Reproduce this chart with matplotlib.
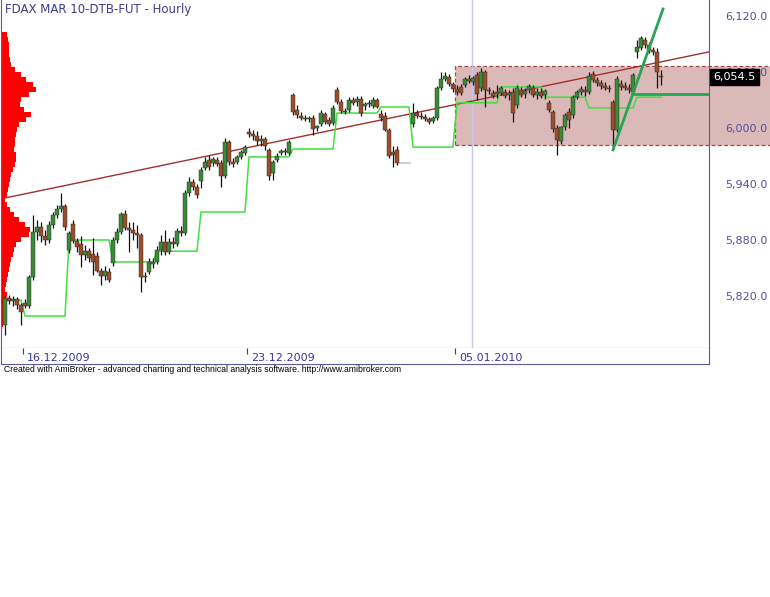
import numpy as np
import matplotlib.pyplot as plt
from matplotlib.patches import Rectangle
from matplotlib.transforms import blended_transform_factory

plt.rcParams['font.family'] = ['DejaVu Sans']

# hourly FDAX bars (15.12.2009 - 11.01.2010)
open_ = [5789, 5818, 5814.5, 5817, 5810.5, 5812.5, 5809.5, 5840.5, 5888.5, 5894,
         5884.5, 5880, 5896, 5907, 5913, 5916.5, 5869.5, 5897, 5879, 5875.5,
         5864, 5868, 5865, 5863, 5847, 5841.5, 5845.5, 5855.5, 5880, 5888.5,
         5908, 5893, 5890.5, 5887.5, 5885.5, 5840.5, 5845.5, 5854.5, 5856.5, 5869.5,
         5878, 5867, 5878, 5875.5, 5889.5, 5887.5, 5930.5, 5942, 5937, 5943,
         5957, 5965.5, 5962.5, 5965.5, 5962.5, 5948.5, 5985, 5963.5, 5963.5, 5969,
         5973, 5995.5, 5993.5, 5991.5, 5986, 5988, 5976.5, 5952, 5965.5, 5973,
         5975.5, 5973, 6035.5, 6019.5, 6013, 6010.5, 6009.5, 6010.5, 6000, 6004.5,
         6015, 6008.5, 6005.5, 6040.5, 6028, 6018, 6019.5, 6030, 6028, 6031,
         6023.5, 6025.5, 6023.5, 6030, 6015, 6013, 5998, 5974.5, 5976.5, 5962.5,
         5962.5, 5962.5, 6004.5, 6016, 6013, 6012, 6009.5, 6007.5, 6010.5, 6043,
         6052.5, 6054.5, 6047, 6042, 6044, 6046, 6052.5, 6049.5, 6057, 6043,
         6060, 6040.5, 6037.5, 6038.5, 6037.5, 6038.5, 6035.5, 6038.5, 6024.5, 6040.5,
         6036.5, 6040.5, 6043, 6035.5, 6038.5, 6035.5, 6027, 6017, 6000, 5986,
         6001, 6017, 6014, 6033, 6038.5, 6040.5, 6038.5, 6058, 6051.5, 6048,
         6045, 6043, 6028, 5998, 6047, 6045, 6043, 6038.5, 6081.5, 6085.5,
         6094.5, 6089, 6083.5, 6081.5, 6055.5]
high = [5820, 5821, 5820, 5819, 5812.5, 5817, 5842.5, 5907, 5901.5, 5899.5,
        5890.5, 5900.5, 5910, 5917.5, 5930.5, 5918.5, 5889.5, 5901.5, 5882, 5884.5,
        5874.5, 5871.5, 5882, 5867, 5850, 5852, 5850, 5883, 5893, 5910,
        5912, 5899.5, 5899.5, 5896, 5887.5, 5845.5, 5860.5, 5860.5, 5873.5, 5885.5,
        5890.5, 5882, 5883, 5893, 5895, 5933.5, 5947.5, 5945.5, 5940, 5958,
        5969, 5971, 5969, 5969, 5965.5, 5989.5, 5987, 5968, 5971, 5976.5,
        5982, 6000, 5998, 5997, 5992.5, 5990.5, 5978.5, 5965.5, 5973, 5977.5,
        5978.5, 5987, 6037.5, 6024.5, 6017, 6014, 6013, 6014, 6003, 6019.5,
        6017, 6012, 6024.5, 6044, 6031, 6021.5, 6033, 6033, 6034.5, 6034.5,
        6028, 6030, 6033, 6032, 6019.5, 6017, 6000, 5980.5, 5980.5, 5962.5,
        5962.5, 5962.5, 6027, 6019.5, 6017, 6015, 6012, 6013, 6045, 6060,
        6060, 6058, 6049.5, 6046, 6047, 6054.5, 6057, 6055.5, 6060, 6064.5,
        6062, 6044, 6040.5, 6046, 6045, 6042, 6040.5, 6043, 6046, 6044,
        6043, 6047, 6046, 6043, 6043, 6042, 6030, 6019.5, 6003, 6002,
        6016, 6021.5, 6035.5, 6040.5, 6045, 6045, 6060, 6061, 6054.5, 6051.5,
        6049.5, 6046, 6030, 6055.5, 6051.5, 6049.5, 6047, 6059, 6094.5, 6098.5,
        6097.5, 6092, 6087, 6085.5, 6062]
low = [5778, 5811.5, 5809.5, 5806, 5789, 5807, 5807, 5837, 5880, 5878,
       5874.5, 5877, 5893, 5903.5, 5910, 5890.5, 5866, 5877, 5867, 5851,
       5858.5, 5856.5, 5842.5, 5845.5, 5832, 5837, 5835, 5852, 5877, 5886.5,
       5890.5, 5867, 5880, 5871.5, 5824.5, 5835, 5843.5, 5850, 5854.5, 5864,
       5864, 5865, 5871.5, 5873.5, 5884.5, 5885.5, 5927, 5933.5, 5925, 5935.5,
       5955, 5955, 5959.5, 5959.5, 5937, 5946.5, 5960.5, 5958, 5961.5, 5967,
       5971, 5990.5, 5987, 5982, 5980.5, 5976.5, 5944.5, 5944.5, 5963.5, 5971,
       5971, 5971, 6014, 6010.5, 6008.5, 6007.5, 6006.5, 5992.5, 5997, 6002,
       6004.5, 6002, 6003, 6025.5, 6016, 6015, 6017, 6024.5, 6023.5, 6013,
       6019.5, 6022.5, 6021.5, 6021.5, 6007.5, 5997, 5968, 5958, 5960.5, 5962.5,
       5962.5, 5962.5, 6001, 6010.5, 6009.5, 6007.5, 6004.5, 6005.5, 6008.5, 6040.5,
       6050.5, 6045, 6038.5, 6035.5, 6035.5, 6044, 6048, 6046, 6030, 6039.5,
       6022.5, 6036.5, 6032, 6032, 6035.5, 6032, 6030, 6006.5, 6021.5, 6033,
       6032, 6037.5, 6033, 6031, 6032, 6031, 6017, 5995.5, 5971, 5983,
       5998, 6000, 6010.5, 6031, 6035.5, 6034.5, 6036.5, 6049.5, 6045, 6042,
       6040.5, 6038.5, 5976.5, 5995.5, 6040.5, 6040.5, 6037.5, 6036.5, 6075, 6083.5,
       6085.5, 6080.5, 6078, 6043, 6046]
close = [5818, 5814.5, 5817, 5810.5, 5803, 5809.5, 5840.5, 5888.5, 5894, 5884.5,
         5880, 5896, 5907, 5913, 5916.5, 5894, 5887.5, 5879, 5872.5, 5864,
         5868, 5860.5, 5856.5, 5847, 5841.5, 5847, 5837, 5880, 5888.5, 5908,
         5893, 5890.5, 5887.5, 5885.5, 5840.5, 5841.5, 5856.5, 5856.5, 5869.5, 5878,
         5867, 5878, 5875.5, 5889.5, 5887.5, 5930.5, 5942, 5937, 5928, 5955,
         5963.5, 5958, 5967, 5961.5, 5948.5, 5985, 5963.5, 5961.5, 5969, 5974.5,
         5979.5, 5993.5, 5991.5, 5986, 5988, 5980.5, 5948.5, 5963.5, 5970, 5975.5,
         5974.5, 5985, 6017, 6014, 6010.5, 6009.5, 6010.5, 5999, 6002, 6016,
         6006.5, 6004.5, 6021.5, 6028, 6018, 6017, 6030, 6027, 6031, 6016,
         6025.5, 6027, 6030, 6022.5, 6010.5, 5998, 5970, 5971, 5962.5, 5962.5,
         5962.5, 5962.5, 6016, 6013, 6012, 6009.5, 6006.5, 6010.5, 6043, 6052.5,
         6055.5, 6047, 6042, 6038.5, 6037.5, 6052.5, 6050.5, 6053.5, 6036.5, 6060,
         6040.5, 6039.5, 6034.5, 6036.5, 6043, 6034.5, 6037.5, 6016, 6043, 6035.5,
         6039.5, 6045, 6035.5, 6038.5, 6034.5, 6039.5, 6019.5, 5999, 5987, 6001,
         6014, 6008.5, 6033, 6038.5, 6042, 6038.5, 6055.5, 6051.5, 6048, 6045,
         6043, 6042, 5998, 6052.5, 6044, 6043, 6040.5, 6057, 6087, 6096.5,
         6089, 6083.5, 6081.5, 6060, 6054.5]

# green step level (value per session, number of bars in session)
level_values = [5815.5, 5798.5, 5880, 5856.5, 5868, 5910, 5969, 5977.5,
                6016, 6022.5, 5979.5, 6027, 6044, 6033, 6021.5, 6033]
level_bars = [5, 11, 11, 11, 11, 12, 11, 11, 11, 8, 11, 11, 11, 11, 12, 7]

# volume profile, top bin price and relative volume per bin
profile_top = 6100
profile_bin = 5.36
profile_vol = [6, 7, 8, 8, 8, 9, 10, 14, 20, 25, 32, 35, 28, 20, 19, 23, 30, 25, 18, 16,
               15, 14, 14, 13, 15, 15, 14, 12, 10, 9, 8, 7, 6, 4, 6, 9, 13, 18, 24, 29,
               28, 20, 15, 13, 12, 10, 9, 8, 7, 6, 5, 4, 6, 4, 3, 3, 2, 2, 2, 1]

# drawn studies
regr_x, regr_y = [0, 176], [5925, 6081.5]
trend_x, trend_y = [152, 164.5], [5976.5, 6127.5]
hline_x, hline_y = [156.75, 176], [6036.5, 6036.5]
zone_lo, zone_hi, zone_start = 5982, 6066.4, 112.5
sep_bar = 116.75

price_ticks = [5820, 5880, 5940, 6000, 6060, 6120]
date_labels = ['16.12.2009', '23.12.2009', '05.01.2010']
date_bars = [5, 61, 113]
last_price = 6054.5

open_, high, low, close = map(np.array, (open_, high, low, close))
x = np.arange(len(close))
green = np.repeat(level_values, level_bars)
levels = profile_top - profile_bin * np.arange(len(profile_vol))

W, H = 770, 597
fig = plt.figure(figsize=(W / 100, H / 100), dpi=100)
frame = '#5a5aa5'

ax = fig.add_axes([1 / W, 1 - 348 / H, 708 / W, 348 / H])
ax.set_xlim(-1, 176)
ax.set_ylim(5764.3, 6137.1)

# profile on the left (1 volume unit = 1 px = 0.25 bar)
ax.barh(levels, np.array(profile_vol) * 0.25, height=profile_bin, left=-1,
        color='#ff0000', linewidth=0, zorder=2)

# shaded zone
ax.add_patch(Rectangle((zone_start, zone_lo), 80, zone_hi - zone_lo,
                       facecolor='#dcb9b9', edgecolor='#a04848',
                       linestyle=(0, (3, 2)), linewidth=0.9,
                       clip_on=False, zorder=1))
ax.axvline(sep_bar, color='#c6c6ef', lw=1, zorder=1.5)

ax.plot(regr_x, regr_y, color='#a3302c', lw=1, zorder=3)
ax.plot(x, green, color='#3fe03f', lw=1.1, zorder=3.5)

# candles
colors = np.where(close >= open_, '#3a8a3a', '#9a4f2c')
ax.vlines(x, low, high, color='#111111', lw=0.9, zorder=4)
ax.bar(x, close - open_, bottom=open_, width=0.8, color=colors,
       edgecolor='#222222', linewidth=0.3, zorder=5)

ax.plot(trend_x, trend_y, color='#27a553', lw=2, zorder=6, clip_on=False)
ax.plot(hline_x, hline_y, color='#27a553', lw=2, zorder=6)

ax.yaxis.tick_right()
ax.set_yticks(price_ticks)
ax.set_yticklabels([f'{v:,.1f}' for v in price_ticks])
ax.tick_params(axis='y', length=0, pad=11.5, labelsize=8, labelcolor='#5050a0')
ax.set_xticks([])
ax.spines['top'].set_visible(False)
for s in ('left', 'right', 'bottom'):
    ax.spines[s].set_color(frame)

tr = blended_transform_factory(ax.transAxes, ax.transData)
ax.text(1.006, last_price, f'{last_price:,.1f}', transform=tr, color='white',
        fontsize=8, ha='left', va='center', zorder=10, clip_on=False,
        bbox=dict(boxstyle='square,pad=0.3', fc='black', ec='black'))

# date row
ax2 = fig.add_axes([1 / W, 1 - 364 / H, 708 / W, 16 / H])
ax2.set_xlim(-1, 176)
ax2.set_ylim(0, 1)
ax2.set_xticks([b - 0.5 for b in date_bars])
ax2.set_xticklabels([])
ax2.tick_params(axis='x', top=True, bottom=False, direction='in', length=4,
                color='#3535a5', labelbottom=False)
ax2.set_yticks([])
ax2.spines['top'].set_visible(False)
for s in ('left', 'right', 'bottom'):
    ax2.spines[s].set_color(frame)
for b, lab in zip(date_bars, date_labels):
    ax2.text(b + 0.5, 0.4, lab, fontsize=8, color='#3535a5', ha='left', va='center')

fig.text(5 / W, 1 - 10 / H, 'FDAX MAR 10-DTB-FUT - Hourly', fontsize=8.5,
         color='#3c3c8c', ha='left', va='center')
fig.text(4 / W, 1 - 369 / H,
         'Created with AmiBroker - advanced charting and technical analysis software. http://www.amibroker.com',
         fontsize=6.2, family='Liberation Sans', color='black', ha='left', va='center')

fig.savefig('out.png', dpi=100)
